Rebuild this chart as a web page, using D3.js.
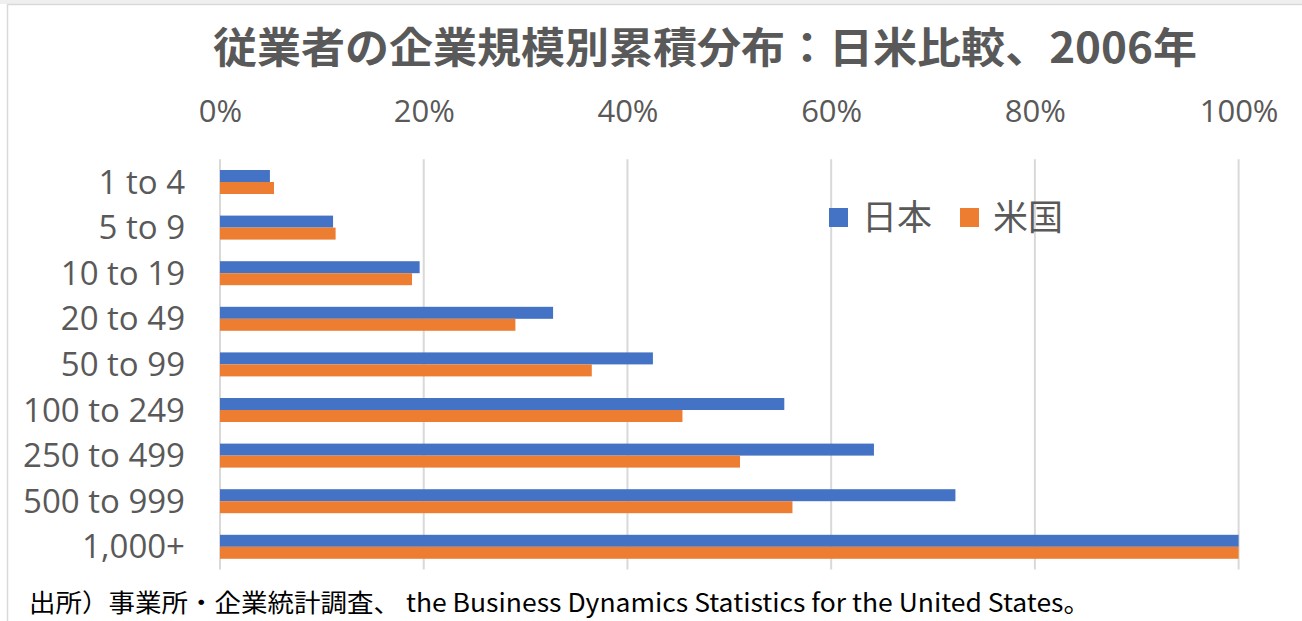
<!DOCTYPE html>
<html>
<head>
<meta charset="utf-8">
<script src="https://cdn.jsdelivr.net/npm/d3@7"></script>
<style>
  html, body { margin: 0; padding: 0; background: #fff; overflow: hidden; }
  .tick-label { font-family: 'Open Sans', sans-serif; fill: #595959; }
  .cjk { font-family: 'Noto Sans CJK JP', sans-serif; }
</style>
</head>
<body>
<div id="chart"></div>
<script>
// data
let categories = ['1 to 4', '5 to 9', '10 to 19', '20 to 49', '50 to 99',
  '100 to 249', '250 to 499', '500 to 999', '1,000+'];
let seriesNames = ['日本', '米国'];
let japanValues = [0.049, 0.111, 0.196, 0.327, 0.425, 0.554, 0.642, 0.722, 1.0];
let usValues = [0.053, 0.1135, 0.1885, 0.290, 0.365, 0.454, 0.5105, 0.562, 1.0];
let xTicks = [0, 0.2, 0.4, 0.6, 0.8, 1.0];
let titleText = '従業者の企業規模別累積分布：日米比較、2006年';
let sourceText = '出所）事業所・企業統計調査、 the Business Dynamics Statistics for the United States。';

let svgWidth = 1302;
let svgHeight = 621;

let plot = { left: 220, right: 1238.6, top: 159.2, bottom: 569.6 };
let colors = ['#4472C4', '#ED7D31'];

let svg = d3.select('#chart').append('svg')
  .attr('width', svgWidth)
  .attr('height', svgHeight);

// chart frame
svg.append('rect')
  .attr('x', 0).attr('y', 0)
  .attr('width', svgWidth).attr('height', 4)
  .attr('fill', '#efefef');
svg.append('rect')
  .attr('x', 7.5).attr('y', 4.5)
  .attr('width', svgWidth + 20).attr('height', svgHeight + 20)
  .attr('fill', '#fff')
  .attr('stroke', '#d9d9d9')
  .attr('stroke-width', 1.5);

// scales
let x = d3.scaleLinear()
  .domain([0, 1])
  .range([plot.left, plot.right]);

let y0 = d3.scaleBand()
  .domain(categories)
  .range([plot.top, plot.bottom])
  .paddingInner(0.474)
  .paddingOuter(0.237);

let y1 = d3.scaleBand()
  .domain(seriesNames)
  .range([0, y0.bandwidth()]);

// gridlines
svg.append('g')
  .selectAll('line')
  .data(xTicks)
  .enter()
  .append('line')
  .attr('x1', d => x(d))
  .attr('x2', d => x(d))
  .attr('y1', plot.top)
  .attr('y2', plot.bottom)
  .attr('stroke', '#d9d9d9')
  .attr('stroke-width', 2);

// top axis
let topAxis = d3.axisTop(x)
  .tickValues(xTicks)
  .tickFormat(d3.format('.0%'))
  .tickSize(0)
  .tickPadding(0);

let xAxis = svg.append('g')
  .attr('transform', 'translate(0, 122)')
  .call(topAxis);
xAxis.select('.domain').remove();
xAxis.selectAll('text')
  .attr('class', 'tick-label')
  .attr('font-size', '31px')
  .attr('dy', 0);

// left axis
let leftAxis = d3.axisLeft(y0)
  .tickSize(0)
  .tickPadding(0);

let yAxis = svg.append('g')
  .attr('transform', 'translate(185, 0)')
  .call(leftAxis);
yAxis.select('.domain').remove();
yAxis.selectAll('text')
  .attr('class', 'tick-label')
  .attr('font-size', '33px')
  .attr('dy', '0.35em');

// bars
let rows = categories.map((c, i) => ({ cat: c, values: [japanValues[i], usValues[i]] }));

let groups = svg.append('g')
  .selectAll('g')
  .data(rows)
  .enter()
  .append('g')
  .attr('transform', d => `translate(0, ${y0(d.cat)})`);

groups.selectAll('rect')
  .data(d => d.values.map((v, j) => ({ name: seriesNames[j], value: v, color: colors[j] })))
  .enter()
  .append('rect')
  .attr('x', x(0))
  .attr('y', d => y1(d.name))
  .attr('width', d => x(d.value) - x(0))
  .attr('height', y1.bandwidth())
  .attr('fill', d => d.color);

// legend
let legendX = [829, 960];
let legend = svg.append('g')
  .selectAll('g')
  .data(seriesNames)
  .enter()
  .append('g')
  .attr('transform', (d, i) => `translate(${legendX[i]}, 208)`);

legend.append('rect')
  .attr('width', 19)
  .attr('height', 19)
  .attr('fill', (d, i) => colors[i]);

legend.append('text')
  .attr('class', 'cjk')
  .attr('x', 33)
  .attr('y', 9.5)
  .attr('dy', '0.36em')
  .attr('font-size', '35px')
  .attr('fill', '#595959')
  .text(d => d);

// title
svg.append('text')
  .attr('class', 'cjk')
  .attr('x', 213)
  .attr('y', 63)
  .attr('font-size', '42px')
  .attr('font-weight', 'bold')
  .attr('fill', '#595959')
  .attr('textLength', 984)
  .attr('lengthAdjust', 'spacingAndGlyphs')
  .text(titleText);

// source note
svg.append('text')
  .attr('class', 'cjk')
  .attr('x', 29)
  .attr('y', 612)
  .attr('font-size', '25px')
  .attr('fill', '#000')
  .attr('textLength', 1061)
  .attr('lengthAdjust', 'spacingAndGlyphs')
  .text(sourceText);
</script>
</body>
</html>
